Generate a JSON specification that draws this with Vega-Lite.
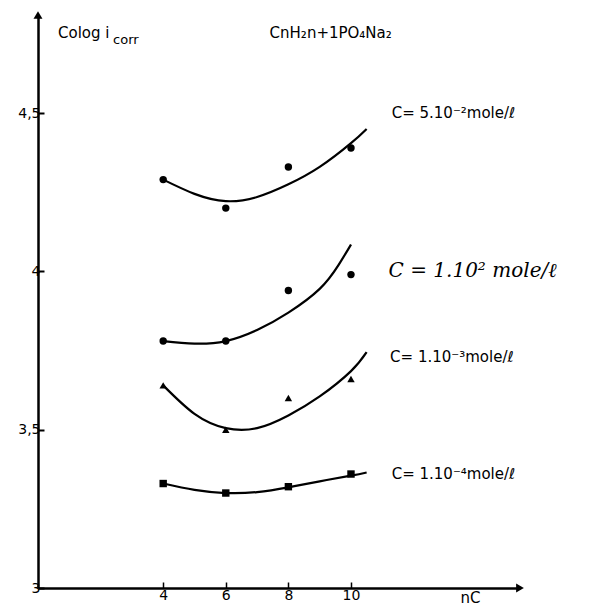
{
  "$schema": "https://vega.github.io/schema/vega-lite/v6.json",
  "width": 482,
  "height": 573,
  "autosize": "none",
  "padding": {"left": 38, "top": 15, "right": 88, "bottom": 21},
  "background": "white",
  "config": {"view": {"stroke": null}, "font": "DejaVu Sans"},
  "resolve": {"scale": {"shape": "independent", "size": "independent"}},
  "datasets": {
    "points": [
      {"series": "A", "nC": 4, "colog": 4.29},
      {"series": "A", "nC": 6, "colog": 4.20},
      {"series": "A", "nC": 8, "colog": 4.33},
      {"series": "A", "nC": 10, "colog": 4.39},
      {"series": "B", "nC": 4, "colog": 3.78},
      {"series": "B", "nC": 6, "colog": 3.78},
      {"series": "B", "nC": 8, "colog": 3.94},
      {"series": "B", "nC": 10, "colog": 3.99},
      {"series": "C", "nC": 4, "colog": 3.64},
      {"series": "C", "nC": 6, "colog": 3.50},
      {"series": "C", "nC": 8, "colog": 3.60},
      {"series": "C", "nC": 10, "colog": 3.66},
      {"series": "D", "nC": 4, "colog": 3.33},
      {"series": "D", "nC": 6, "colog": 3.30},
      {"series": "D", "nC": 8, "colog": 3.32},
      {"series": "D", "nC": 10, "colog": 3.36}
    ],
    "curves": [
      {"series": "A", "nC": 4, "colog": 4.29},
      {"series": "A", "nC": 5, "colog": 4.245},
      {"series": "A", "nC": 6, "colog": 4.222},
      {"series": "A", "nC": 7, "colog": 4.235},
      {"series": "A", "nC": 8, "colog": 4.275},
      {"series": "A", "nC": 9, "colog": 4.33},
      {"series": "A", "nC": 10, "colog": 4.405},
      {"series": "A", "nC": 10.5, "colog": 4.45},
      {"series": "B", "nC": 4, "colog": 3.78},
      {"series": "B", "nC": 5, "colog": 3.772},
      {"series": "B", "nC": 6, "colog": 3.78},
      {"series": "B", "nC": 7, "colog": 3.815},
      {"series": "B", "nC": 8, "colog": 3.87},
      {"series": "B", "nC": 9, "colog": 3.945},
      {"series": "B", "nC": 9.6, "colog": 4.02},
      {"series": "B", "nC": 10, "colog": 4.085},
      {"series": "C", "nC": 4, "colog": 3.64},
      {"series": "C", "nC": 5, "colog": 3.55},
      {"series": "C", "nC": 6, "colog": 3.505},
      {"series": "C", "nC": 7, "colog": 3.505},
      {"series": "C", "nC": 8, "colog": 3.545},
      {"series": "C", "nC": 9, "colog": 3.605},
      {"series": "C", "nC": 10, "colog": 3.685},
      {"series": "C", "nC": 10.5, "colog": 3.745},
      {"series": "D", "nC": 4, "colog": 3.33},
      {"series": "D", "nC": 5, "colog": 3.31},
      {"series": "D", "nC": 6, "colog": 3.30},
      {"series": "D", "nC": 7, "colog": 3.303},
      {"series": "D", "nC": 8, "colog": 3.318},
      {"series": "D", "nC": 9, "colog": 3.337},
      {"series": "D", "nC": 10, "colog": 3.355},
      {"series": "D", "nC": 10.5, "colog": 3.365}
    ],
    "arrows": [
      {"nC": 15.4, "colog": 3, "dir": "right"},
      {"nC": 0, "colog": 4.81, "dir": "up"}
    ],
    "labels": [
      {"nC": 11.3, "colog": 4.50, "text": "C= 5.10⁻²mole/ℓ"},
      {"nC": 11.25, "colog": 3.73, "text": "C= 1.10⁻³mole/ℓ"},
      {"nC": 11.3, "colog": 3.36, "text": "C= 1.10⁻⁴mole/ℓ"},
      {"nC": 7.4, "colog": 4.753, "text": "CnH₂n+1PO₄Na₂"},
      {"nC": 0.64, "colog": 4.753, "text": "Colog i"},
      {"nC": 13.5, "colog": 2.968, "text": "nC"}
    ],
    "hand": [
      {"nC": 11.2, "colog": 4.0, "text": "C = 1.10² mole/ℓ"}
    ],
    "subs": [
      {"nC": 2.4, "colog": 4.73, "text": "corr"}
    ]
  },
  "layer": [
    {
      "data": {"name": "curves"},
      "mark": {"type": "line", "interpolate": "natural", "color": "black", "strokeWidth": 2.2},
      "encoding": {
        "x": {
          "field": "nC", "type": "quantitative",
          "scale": {"domain": [0, 15.4], "nice": false, "zero": false},
          "axis": {
            "values": [4, 6, 8, 10], "grid": false, "title": null,
            "domainColor": "black", "domainWidth": 2.5,
            "tickColor": "black", "tickWidth": 1.5, "tickSize": -6,
            "labelColor": "black", "labelFontSize": 14, "labelPadding": 6,
            "labelFont": "DejaVu Sans"
          }
        },
        "y": {
          "field": "colog", "type": "quantitative",
          "scale": {"domain": [3, 4.81], "nice": false, "zero": false},
          "axis": {
            "values": [3, 3.5, 4, 4.5], "grid": false, "title": null,
            "format": "~g",
            "labelExpr": "replace(datum.label, '.', ',')",
            "domainColor": "black", "domainWidth": 2.5,
            "tickColor": "black", "tickWidth": 2, "tickSize": -6,
            "labelColor": "black", "labelFontSize": 14, "labelPadding": 4,
            "labelFont": "DejaVu Sans"
          }
        },
        "detail": {"field": "series"}
      }
    },
    {
      "data": {"name": "points"},
      "mark": {"type": "point", "filled": true, "color": "black", "opacity": 1},
      "encoding": {
        "x": {"field": "nC", "type": "quantitative"},
        "y": {"field": "colog", "type": "quantitative"},
        "shape": {
          "field": "series", "type": "nominal",
          "scale": {"domain": ["A", "B", "C", "D"], "range": ["circle", "circle", "triangle-up", "square"]},
          "legend": null
        },
        "size": {
          "field": "series", "type": "nominal",
          "scale": {"domain": ["A", "B", "C", "D"], "range": [55, 55, 40, 45]},
          "legend": null
        }
      }
    },
    {
      "data": {"name": "arrows"},
      "transform": [{"filter": "datum.dir === 'right'"}],
      "mark": {"type": "point", "shape": "triangle-right", "filled": true, "color": "black", "opacity": 1, "size": 80, "clip": false},
      "encoding": {
        "x": {"field": "nC", "type": "quantitative"},
        "y": {"field": "colog", "type": "quantitative"}
      }
    },
    {
      "data": {"name": "arrows"},
      "transform": [{"filter": "datum.dir === 'up'"}],
      "mark": {"type": "point", "shape": "triangle-up", "filled": true, "color": "black", "opacity": 1, "size": 80, "clip": false},
      "encoding": {
        "x": {"field": "nC", "type": "quantitative"},
        "y": {"field": "colog", "type": "quantitative"}
      }
    },
    {
      "data": {"name": "labels"},
      "mark": {"type": "text", "align": "left", "baseline": "middle", "fontSize": 15, "color": "black", "clip": false, "font": "DejaVu Sans"},
      "encoding": {
        "x": {"field": "nC", "type": "quantitative"},
        "y": {"field": "colog", "type": "quantitative"},
        "text": {"field": "text"}
      }
    },
    {
      "data": {"name": "subs"},
      "mark": {"type": "text", "align": "left", "baseline": "middle", "fontSize": 13, "color": "black", "clip": false, "font": "DejaVu Sans"},
      "encoding": {
        "x": {"field": "nC", "type": "quantitative"},
        "y": {"field": "colog", "type": "quantitative"},
        "text": {"field": "text"}
      }
    },
    {
      "data": {"name": "hand"},
      "mark": {"type": "text", "align": "left", "baseline": "middle", "fontSize": 20, "fontStyle": "italic", "color": "black", "clip": false, "font": "DejaVu Serif"},
      "encoding": {
        "x": {"field": "nC", "type": "quantitative"},
        "y": {"field": "colog", "type": "quantitative"},
        "text": {"field": "text"}
      }
    }
  ]
}
